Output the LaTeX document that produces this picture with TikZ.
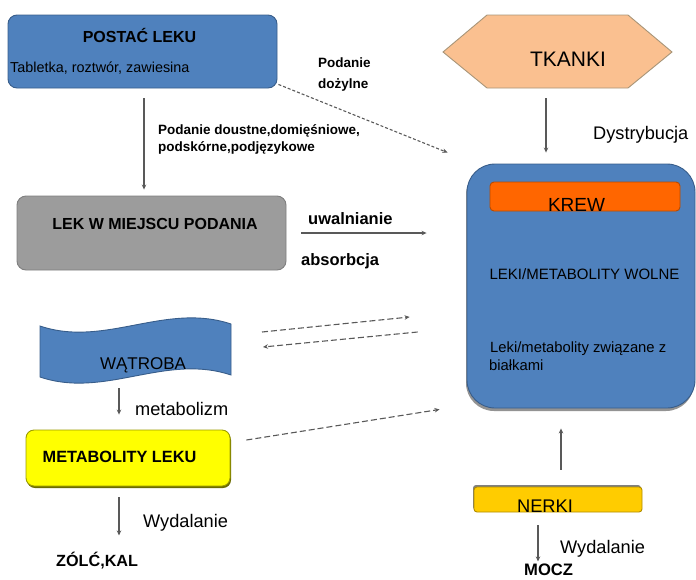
\documentclass[tikz,border=0pt]{standalone}
\usepackage{fontspec}
\setmainfont{Liberation Sans}
\usetikzlibrary{arrows.meta,shadows,calc}
\definecolor{blu}{HTML}{4F81BD}
\definecolor{bluD}{HTML}{385D8A}
\definecolor{grayF}{HTML}{9C9C9C}
\definecolor{grayD}{HTML}{7F7F7F}
\definecolor{orng}{HTML}{FF6600}
\definecolor{orngD}{HTML}{B84A00}
\definecolor{pch}{HTML}{FAC090}
\definecolor{pchD}{HTML}{A89578}
\definecolor{yel}{HTML}{FFFF00}
\definecolor{yelD}{HTML}{9B9B00}
\definecolor{nerk}{HTML}{FFCC00}
\definecolor{nerkD}{HTML}{B08C00}
\definecolor{linec}{HTML}{595959}
\tikzset{
  box/.style={draw, rounded corners=9pt, line width=0.9pt, inner sep=0pt},
  lbl/.style={inner sep=0pt, text=black},
  conn/.style={draw=linec, line width=1.1pt, -{Stealth[length=5pt,width=4.5pt]}},
  dconn/.style={conn, dash pattern=on 6pt off 3pt},
  fconn/.style={conn, dash pattern=on 3pt off 2pt},
}
\newcommand{\fs}[1]{\fontsize{#1}{#1}\selectfont}
\begin{document}
\begin{tikzpicture}[x=1pt,y=-1pt]
\useasboundingbox (0,0) rectangle (696,579);
% boxes
\node[box, fill=blu, draw=bluD, minimum width=269pt, minimum height=73pt] (postac) at (142.5,51.5) {};
\node[box, fill=grayF, draw=grayD, minimum width=269pt, minimum height=74pt] (lek) at (151.5,233) {};
\node[box, rounded corners=28pt, fill=blu, draw=bluD, minimum width=228pt, minimum height=244pt,
      drop shadow={shadow xshift=-1pt, shadow yshift=-3pt, fill=gray!85, opacity=1}] (krew) at (581,286) {};
\node[box, rounded corners=4pt, fill=orng, draw=orngD, minimum width=190pt, minimum height=29pt] (krewin) at (585,196.5) {};
\node[box, rounded corners=8pt, fill=yel, draw=yelD, minimum width=204pt, minimum height=56pt,
      drop shadow={shadow xshift=1pt, shadow yshift=-2pt, fill=yelD!70!black, opacity=1}] (metab) at (128,458) {};
\node[box, rounded corners=3pt, fill=nerk, draw=nerkD, minimum width=168pt, minimum height=25pt,
      drop shadow={shadow xshift=-1pt, shadow yshift=2pt, fill=gray, opacity=1}] (nerki) at (558,499.5) {};
% hexagon
\path[draw=pchD, fill=pch, line width=0.9pt] (443,52) -- (487,15) -- (628,15) -- (672,52) -- (628,88) -- (487,88) -- cycle;
\node[inner sep=0pt, minimum width=229pt, minimum height=73pt] (tkanki) at (557.5,51.5) {};
% liver tape
\path[draw=bluD, fill=blu, line width=0.9pt] (40,326) .. controls (105,348) and (165,302) .. (231,324) -- (231,375) .. controls (165,353) and (105,399) .. (40,377) -- cycle;
\node[inner sep=0pt, minimum width=191pt, minimum height=51pt] (watroba) at (135.5,351) {};
% texts
\node[lbl, anchor=base] (t-postac) at (139.5,42) {\fs{16}\bfseries POSTAĆ LEKU};
\node[lbl, anchor=base west] (t-tabl) at (10,72) {\fs{14.4}Tabletka, roztwór, zawiesina};
\node[lbl, anchor=base west] (t-pod1) at (158,134) {\fs{13.5}\bfseries Podanie doustne,domięśniowe,};
\node[lbl, anchor=base west] (t-pod2) at (158,151) {\fs{13.5}\bfseries podskórne,podjęzykowe};
\node[lbl, anchor=base west] (t-doz1) at (318,67) {\fs{13.5}\bfseries Podanie};
\node[lbl, anchor=base west] (t-doz2) at (318,88) {\fs{13.5}\bfseries dożylne};
\node[lbl, anchor=base] (t-tkanki) at (568,66) {\fs{21}TKANKI};
\node[lbl, anchor=base west] (t-dystr) at (593,139) {\fs{18.2}Dystrybucja};
\node[lbl, anchor=base] (t-krew) at (576.5,211) {\fs{19}KREW};
\node[lbl, anchor=base] (t-wolne) at (584.5,279) {\fs{15}LEKI/METABOLITY WOLNE};
\node[lbl, anchor=base west] (t-zw1) at (490,352) {\fs{14.8}Leki/metabolity związane z};
\node[lbl, anchor=base west] (t-zw2) at (489,370) {\fs{14.8}białkami};
\node[lbl, anchor=base] (t-lek) at (155,229) {\fs{16}\bfseries LEK W MIEJSCU PODANIA};
\node[lbl, anchor=base west] (t-uwal) at (308,224) {\fs{16.5}\bfseries uwalnianie};
\node[lbl, anchor=base west] (t-abs) at (301,265) {\fs{16.5}\bfseries absorbcja};
\node[lbl, anchor=base] (t-watr) at (143,369) {\fs{17}WĄTROBA};
\node[lbl, anchor=base west] (t-metab) at (135,415) {\fs{18.2}metabolizm};
\node[lbl, anchor=base] (t-metlek) at (119.5,462) {\fs{16.3}\bfseries METABOLITY LEKU};
\node[lbl, anchor=base west] (t-wyd1) at (143,527) {\fs{18.2}Wydalanie};
\node[lbl, anchor=base west] (zolc) at (56,566) {\fs{16.2}\bfseries ZÓLĆ,KAL};
\node[lbl, anchor=base] (t-nerki) at (545,512) {\fs{18.3}NERKI};
\node[lbl, anchor=base west] (t-wyd2) at (560,553) {\fs{18.2}Wydalanie};
\node[lbl, anchor=base west] (mocz) at (524,575.5) {\fs{16.6}\bfseries MOCZ};
% named free ends
\coordinate (w1) at (262,332);
\coordinate (w2) at (263,347);
\coordinate (w3) at (119,388);
% connectors
\draw[conn] ($(postac.south)+(1.5,10)$) -- ($(lek.north)+(-7.5,-6)$);
\draw[fconn] ($(postac.south east)+(1,-4)$) -- ($(krew.north west)+(-19,-11)$);
\draw[conn] ($(tkanki.south)+(-11.5,10)$) -- ($(krew.north)+(-35,-11)$);
\draw[conn] ($(lek.east)+(15,0)$) -- ($(krew.west)+(-40,-53)$);
\draw[dconn] (w1) -- ($(krew.west)+(-57,31)$);
\draw[dconn] ($(krew.west)+(-49,46)$) -- (w2);
\draw[conn] (w3) -- ($(metab.north)+(-9,-15)$);
\draw[conn] ($(metab.south)+(-9,11)$) -- ($(metab.south)+(-9,49)$);
\draw[dconn] ($(metab.east)+(16,-18)$) -- ($(krew.south west)+(-27,1)$);
\draw[conn] ($(nerki.north)+(3,-17)$) -- ($(krew.south)+(-20,20)$);
\draw[conn] ($(nerki.south)+(-20,13)$) -- ($(nerki.south)+(-20,49)$);
\end{tikzpicture}
\end{document}
